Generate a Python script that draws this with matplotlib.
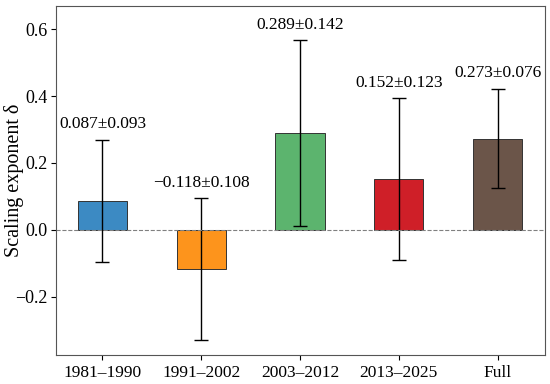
import matplotlib
matplotlib.use("Agg")
import matplotlib.pyplot as plt
import numpy as np

# periods and fitted scaling exponents
periods = ["1981\u20131990", "1991\u20132002", "2003\u20132012", "2013\u20132025", "Full"]
delta = [0.087, -0.118, 0.289, 0.152, 0.273]
se = [0.093, 0.108, 0.142, 0.123, 0.076]
# 95% CI half-widths
ci = [0.182, 0.212, 0.278, 0.241, 0.149]
colors = ["#3c8ac3", "#fd941c", "#5cb46e", "#cf1f28", "#6b5549"]

plt.rcParams["font.family"] = ["Liberation Serif", "DejaVu Serif"]

fig, ax = plt.subplots(figsize=(5.5, 3.84), dpi=100)
x = np.arange(len(periods))
ax.bar(x, delta, width=0.5, color=colors, edgecolor="#333333", linewidth=0.7,
       yerr=ci, capsize=5, error_kw=dict(elinewidth=1.0, ecolor="black", capthick=1.0))
ax.axhline(0, color="gray", linestyle="--", linewidth=0.8)

for xi, d, s, c in zip(x, delta, se, ci):
    ax.text(xi, d + c + 0.022, f"{d:.3f}\u00b1{s:.3f}".replace("-", "\u2212"),
            ha="center", va="bottom", fontsize=12.5)

ax.set_xticks(x)
ax.set_xticklabels(periods, fontsize=12.5)
ax.set_ylabel("Scaling exponent \u03b4", fontsize=14.5)
ax.yaxis.set_label_coords(-0.064, 0.5)
ax.set_ylim(-0.375, 0.67)
ax.set_yticks([-0.2, 0.0, 0.2, 0.4, 0.6])
ax.set_yticklabels(["\u22120.2", "0.0", "0.2", "0.4", "0.6"])
ax.tick_params(axis="y", labelsize=13, pad=2)
for sp in ax.spines.values():
    sp.set_color("#555555")

fig.subplots_adjust(left=0.101, right=0.99, top=0.985, bottom=0.075)
fig.savefig("out.png", dpi=100)
